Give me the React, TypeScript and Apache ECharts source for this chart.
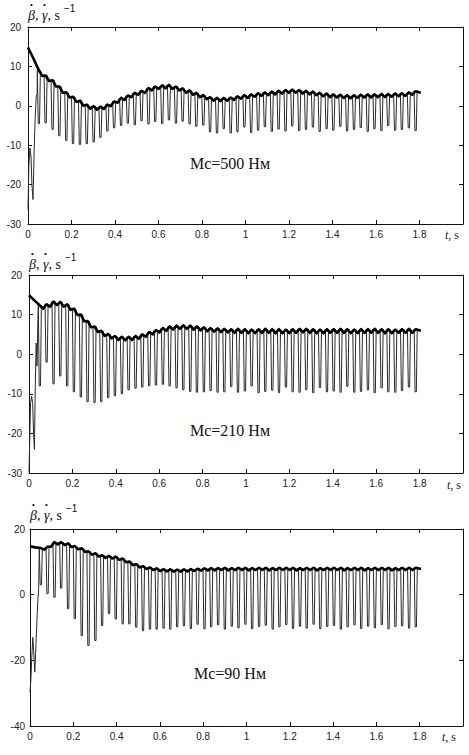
import { useEffect, useRef } from "react";
import * as echarts from "echarts";

// Instants of the mesh pulses (s), shared by the three load cases
const pulseT = [
  0.05, 0.081, 0.113, 0.144, 0.176, 0.207, 0.239, 0.27, 0.302, 0.333,
  0.365, 0.396, 0.428, 0.459, 0.491, 0.522, 0.554, 0.585, 0.617, 0.648,
  0.68, 0.711, 0.743, 0.774, 0.806, 0.837, 0.869, 0.9, 0.932, 0.963,
  0.995, 1.026, 1.058, 1.089, 1.121, 1.152, 1.184, 1.215, 1.247, 1.278,
  1.31, 1.341, 1.373, 1.404, 1.436, 1.467, 1.499, 1.53, 1.562, 1.593,
  1.625, 1.656, 1.688, 1.719, 1.751, 1.782,
];

const xTicks = { min: 0, max: 2, interval: 0.2 };

// ---- Mc = 500 Nm ----
const p1HeadT = [0, 0.025];
const p1HeadV = [14.8, 12.0];
const p1Crest = [
  9.0, 7.7, 6.5, 4.9, 3.4, 2.3, 1.3, 0.3, -0.1, -0.2,
  0.3, 1.1, 2.0, 2.6, 3.3, 3.8, 4.5, 4.9, 5.2, 5.3,
  4.9, 4.4, 3.9, 3.3, 2.7, 2.2, 2.0, 2.0, 2.1, 2.4,
  2.7, 2.9, 3.2, 3.4, 3.6, 3.8, 4.0, 4.1, 4.0, 3.8,
  3.6, 3.3, 3.1, 2.9, 2.8, 2.7, 2.7, 2.8, 2.9, 2.9,
  3.0, 3.0, 3.1, 3.2, 3.4, 3.7,
];
const p1Dip = [
  7.6, 6.3, 4.9, 3.3, 2.1, 1.0, 0.0, -0.7, -1.0, -0.8,
  -0.1, 0.8, 1.5, 2.2, 2.8, 3.3, 3.9, 4.3, 4.4, 4.3,
  3.9, 3.3, 2.8, 2.2, 1.7, 1.3, 1.2, 1.3, 1.5, 1.8,
  2.0, 2.3, 2.5, 2.7, 2.9, 3.1, 3.3, 3.3, 3.1, 2.9,
  2.7, 2.4, 2.2, 2.1, 2.0, 1.9, 2.0, 2.1, 2.1, 2.2,
  2.2, 2.3, 2.4, 2.5, 2.8,
];
const p1Low = [
  -4.5, -4.3, -6.0, -7.6, -8.8, -9.6, -9.8, -9.6, -9.2, -8.0,
  -6.4, -5.6, -5.0, -4.4, -4.8, -3.8, -4.6, -4.0, -4.5, -3.6,
  -4.4, -3.9, -4.6, -5.2, -4.9, -6.6, -6.9, -5.8, -6.9, -6.6,
  -5.4, -6.8, -6.2, -5.3, -6.5, -5.9, -6.4, -5.1, -6.3, -6.0,
  -5.4, -6.5, -5.8, -6.2, -5.2, -6.4, -6.0, -5.5, -6.5, -5.8,
  -6.3, -5.0, -6.2, -6.0, -5.6, -6.3,
];
const p1StartT = [0, 0.004, 0.009, 0.014, 0.018, 0.023, 0.028, 0.033, 0.038, 0.042];
const p1StartV = [-26.3, -15, -10.7, -13, -20, -23.8, -12, -3, 2.5, 3];
const p1TailT = [1.806];
const p1TailV = [3.3];

// ---- Mc = 210 Nm ----
const p2HeadT = [0, 0.025];
const p2HeadV = [14.9, 13.6];
const p2Crest = [
  12.3, 12.6, 13.3, 13.2, 12.6, 11.5, 10.0, 8.4, 7.0, 5.9,
  5.1, 4.6, 4.4, 4.4, 4.6, 5.0, 5.6, 6.1, 6.6, 7.0,
  7.2, 7.3, 7.2, 7.0, 6.8, 6.6, 6.5, 6.4, 6.3, 6.4,
  6.3, 6.2, 6.3, 6.4, 6.3, 6.3, 6.2, 6.3, 6.4, 6.4,
  6.3, 6.2, 6.3, 6.3, 6.4, 6.3, 6.2, 6.3, 6.3, 6.4,
  6.3, 6.3, 6.2, 6.3, 6.4, 6.3,
];
const p2Dip = [
  11.5, 12.0, 12.4, 12.0, 11.2, 9.9, 8.3, 6.8, 5.6, 4.6,
  4.0, 3.6, 3.5, 3.6, 3.9, 4.4, 5.0, 5.5, 5.9, 6.2,
  6.4, 6.4, 6.2, 6.0, 5.8, 5.7, 5.6, 5.5, 5.4, 5.4,
  5.3, 5.3, 5.4, 5.4, 5.3, 5.3, 5.3, 5.4, 5.5, 5.4,
  5.3, 5.3, 5.4, 5.4, 5.4, 5.3, 5.3, 5.4, 5.4, 5.4,
  5.3, 5.3, 5.4, 5.4, 5.4,
];
const p2Low = [
  -8.0, -2.0, -7.5, -5.5, -8.0, -9.5, -10.8, -12.0, -12.2, -12.0,
  -11.0, -10.5, -10.0, -9.0, -8.6, -8.3, -8.0, -7.8, -7.6, -8.0,
  -8.5, -9.0, -9.4, -9.6, -9.5, -9.2, -9.6, -9.5, -8.2, -9.6,
  -9.3, -8.0, -9.7, -9.4, -9.1, -9.7, -8.3, -9.5, -9.6, -9.0,
  -9.7, -8.4, -9.5, -9.3, -9.6, -8.1, -9.6, -9.4, -9.0, -9.7,
  -8.5, -9.5, -9.6, -9.2, -8.3, -9.5,
];
const p2StartT = [0, 0.004, 0.007, 0.012, 0.017, 0.021, 0.025, 0.029, 0.033, 0.037, 0.041];
const p2StartV = [-29.8, -20, -12.4, -10.6, -12.4, -20, -24, -8, 2.8, -3, 9];
const p2TailT = [1.806];
const p2TailV = [5.9];

// ---- Mc = 90 Nm ----
const p3HeadT = [0, 0.025];
const p3HeadV = [14.7, 14.4];
const p3Crest = [
  14.2, 14.6, 16.0, 16.0, 15.6, 14.8, 14.1, 13.2, 12.6, 12.0,
  11.8, 11.6, 11.0, 10.1, 9.3, 8.7, 8.3, 8.0, 7.8, 7.7,
  7.6, 7.7, 7.8, 7.9, 8.0, 8.1, 8.1, 8.2, 8.1, 8.2,
  8.2, 8.1, 8.2, 8.2, 8.1, 8.2, 8.2, 8.2, 8.1, 8.2,
  8.2, 8.1, 8.2, 8.2, 8.2, 8.1, 8.2, 8.2, 8.1, 8.2,
  8.2, 8.2, 8.1, 8.2, 8.2, 8.2,
];
const p3Dip = [
  13.7, 14.6, 15.3, 15.1, 14.5, 13.8, 13.0, 12.2, 11.6, 11.2,
  11.0, 10.6, 9.9, 9.0, 8.3, 7.8, 7.5, 7.2, 7.1, 7.0,
  7.0, 7.1, 7.2, 7.3, 7.4, 7.4, 7.5, 7.4, 7.5, 7.5,
  7.4, 7.5, 7.5, 7.4, 7.5, 7.5, 7.5, 7.4, 7.5, 7.5,
  7.4, 7.5, 7.5, 7.5, 7.4, 7.5, 7.5, 7.4, 7.5, 7.5,
  7.5, 7.4, 7.5, 7.5, 7.5,
];
const p3Low = [
  3.0, 0.3, -0.8, 2.0, -4.3, -7.3, -12.5, -15.5, -14.0, -9.4,
  -5.8, -7.4, -8.9, -8.9, -9.9, -11.0, -10.5, -10.5, -10.2, -10.5,
  -9.8, -9.5, -10.3, -9.0, -10.4, -9.8, -9.2, -10.5, -9.6, -10.1,
  -9.0, -10.4, -9.7, -9.3, -10.5, -9.8, -9.1, -10.3, -9.6, -10.2,
  -9.0, -10.4, -9.7, -9.4, -10.5, -9.8, -9.2, -10.3, -9.6, -10.1,
  -9.1, -10.4, -9.7, -9.5, -10.2, -9.8,
];
const p3StartT = [0, 0.004, 0.008, 0.013, 0.017, 0.022, 0.026, 0.031, 0.036, 0.04];
const p3StartV = [-29.7, -26, -19.5, -13, -17, -23.6, -18, -9.4, -2, 1.8];
const p3TailT = [1.806];
const p3TailV = [7.8];

// y-axis ranges
const yRange1 = { min: -30, max: 20, interval: 10 };
const yRange2 = { min: -30, max: 20, interval: 10 };
const yRange3 = { min: -40, max: 20, interval: 20 };

const loadLabels = ["Мс=500 Нм", "Мс=210 Нм", "Мс=90 Нм"];

const PULSE_EDGE = 0.007;
const PULSE_FLOOR = 0.003;

function pairs(ts: number[], vs: number[]) {
  return ts.map((t, i) => [t, vs[i]]);
}

// β̇ : envelope with a ripple at every mesh pulse
function thickLine(headT: number[], headV: number[], crest: number[], dip: number[], tailT: number[], tailV: number[]) {
  const pts = pairs(headT, headV);
  crest.forEach((c, i) => {
    pts.push([pulseT[i], c]);
    if (i < dip.length) pts.push([(pulseT[i] + pulseT[i + 1]) / 2, dip[i]]);
  });
  return pts.concat(pairs(tailT, tailV));
}

// γ̇ : drops from the envelope to the trough at every pulse
function thinLine(startT: number[], startV: number[], crest: number[], dip: number[], low: number[], tailT: number[], tailV: number[]) {
  const pts = pairs(startT, startV);
  crest.forEach((c, i) => {
    const t = pulseT[i];
    pts.push([t - PULSE_EDGE, c], [t - PULSE_FLOOR, low[i]], [t + PULSE_FLOOR, low[i]], [t + PULSE_EDGE, c]);
    if (i < dip.length) pts.push([(pulseT[i] + pulseT[i + 1]) / 2, dip[i]]);
  });
  return pts.concat(pairs(tailT, tailV));
}

const SANS = '"Liberation Sans", Arial, sans-serif';
const SERIF = '"Liberation Serif", "Times New Roman", serif';

const grids = [
  { left: 28, top: 27, width: 435, height: 197 },
  { left: 29, top: 275, width: 434, height: 198 },
  { left: 30, top: 529, width: 433, height: 197 },
];

export default function App() {
  const ref = useRef<HTMLDivElement>(null);

  useEffect(() => {
    if (!ref.current) return;
    const chart = echarts.init(ref.current, null, { renderer: "svg" });

    const axisLine = { show: true, onZero: false, lineStyle: { color: "#111", width: 1 } };
    const tick = { show: true, inside: true, length: 4, lineStyle: { color: "#111" } };
    const lbl = { fontSize: 10, color: "#222", fontFamily: SANS };

    const xAxis: any[] = [];
    const yAxis: any[] = [];
    const yRanges = [yRange1, yRange2, yRange3];
    grids.forEach((_, g) => {
      xAxis.push({
        type: "value", gridIndex: g, position: "bottom", ...xTicks,
        axisLine, axisTick: tick, splitLine: { show: false },
        axisLabel: { ...lbl, margin: 5, formatter: (v: number) => (v >= 1.99 ? "" : String(+v.toFixed(1))) },
      });
      xAxis.push({
        type: "value", gridIndex: g, position: "top", ...xTicks,
        axisLine, axisTick: tick, splitLine: { show: false }, axisLabel: { show: false },
      });
      yAxis.push({
        type: "value", gridIndex: g, position: "left", ...yRanges[g],
        axisLine, axisTick: tick, splitLine: { show: false },
        axisLabel: { ...lbl, margin: g === 2 ? 5 : 7 },
      });
      yAxis.push({
        type: "value", gridIndex: g, position: "right", ...yRanges[g],
        axisLine, axisTick: tick, splitLine: { show: false }, axisLabel: { show: false },
      });
    });

    const thin = [
      thinLine(p1StartT, p1StartV, p1Crest, p1Dip, p1Low, p1TailT, p1TailV),
      thinLine(p2StartT, p2StartV, p2Crest, p2Dip, p2Low, p2TailT, p2TailV),
      thinLine(p3StartT, p3StartV, p3Crest, p3Dip, p3Low, p3TailT, p3TailV),
    ];
    const thick = [
      thickLine(p1HeadT, p1HeadV, p1Crest, p1Dip, p1TailT, p1TailV),
      thickLine(p2HeadT, p2HeadV, p2Crest, p2Dip, p2TailT, p2TailV),
      thickLine(p3HeadT, p3HeadV, p3Crest, p3Dip, p3TailT, p3TailV),
    ];

    const series: any[] = [];
    grids.forEach((_, g) => {
      series.push({
        type: "line", name: "γ̇", xAxisIndex: g * 2, yAxisIndex: g * 2, data: thin[g],
        showSymbol: false, symbol: "none", z: 2,
        lineStyle: { color: "#2a2a2a", width: 1 },
      });
      series.push({
        type: "line", name: "β̇", xAxisIndex: g * 2, yAxisIndex: g * 2, data: thick[g],
        showSymbol: false, symbol: "none", z: 3,
        lineStyle: { color: "#000", width: 2.6, join: "round" },
      });
    });

    const titleTops = [8, 257, 508];
    const unitTops = [235, 485, 737];
    const unitLefts = [445, 447, 442];
    const noteY = [163, 430, 673];
    const graphic: any[] = [];
    grids.forEach((gr, g) => {
      graphic.push({
        type: "text", x: gr.left, y: titleTops[g],
        style: {
          text: "{i|β}, {i|γ}, s",
          font: `14px ${SERIF}`, fill: "#111", lineHeight: 14,
          rich: { i: { fontStyle: "italic", fontSize: 14, fontFamily: SERIF, color: "#111", lineHeight: 14 } },
        },
      });
      // time-derivative dots over β and γ
      [2, 15].forEach((dx) => {
        graphic.push({
          type: "text", x: gr.left + dx, y: titleTops[g] - 8,
          style: { text: "•", font: `8px ${SANS}`, fill: "#111", lineHeight: 8 },
        });
      });
      graphic.push({
        type: "text", x: gr.left + 36, y: titleTops[g] - 5,
        style: { text: "−1", font: `10px ${SANS}`, fill: "#111", lineHeight: 10 },
      });
      graphic.push({
        type: "text", x: 230, y: noteY[g],
        style: {
          text: loadLabels[g], font: `16px ${SERIF}`, fill: "#111",
          align: "center", verticalAlign: "middle", textAlign: "center", textVerticalAlign: "middle",
        },
      });
      graphic.push({
        type: "text", x: unitLefts[g], y: unitTops[g],
        style: {
          text: "{i|t}, s", font: `12px ${SERIF}`, fill: "#222",
          verticalAlign: "middle", textVerticalAlign: "middle",
          rich: { i: { fontStyle: "italic", fontSize: 12, fontFamily: SERIF, color: "#222" } },
        },
      });
    });

    chart.setOption({
      animation: false,
      backgroundColor: "#fff",
      grid: grids.map((gr) => ({ ...gr, containLabel: false })),
      xAxis,
      yAxis,
      series,
      graphic,
    });

    return () => chart.dispose();
  }, []);

  return (
    <div
      ref={ref}
      style={{ position: "fixed", left: 0, top: 0, width: 469, height: 755, background: "#fff" }}
    />
  );
}
